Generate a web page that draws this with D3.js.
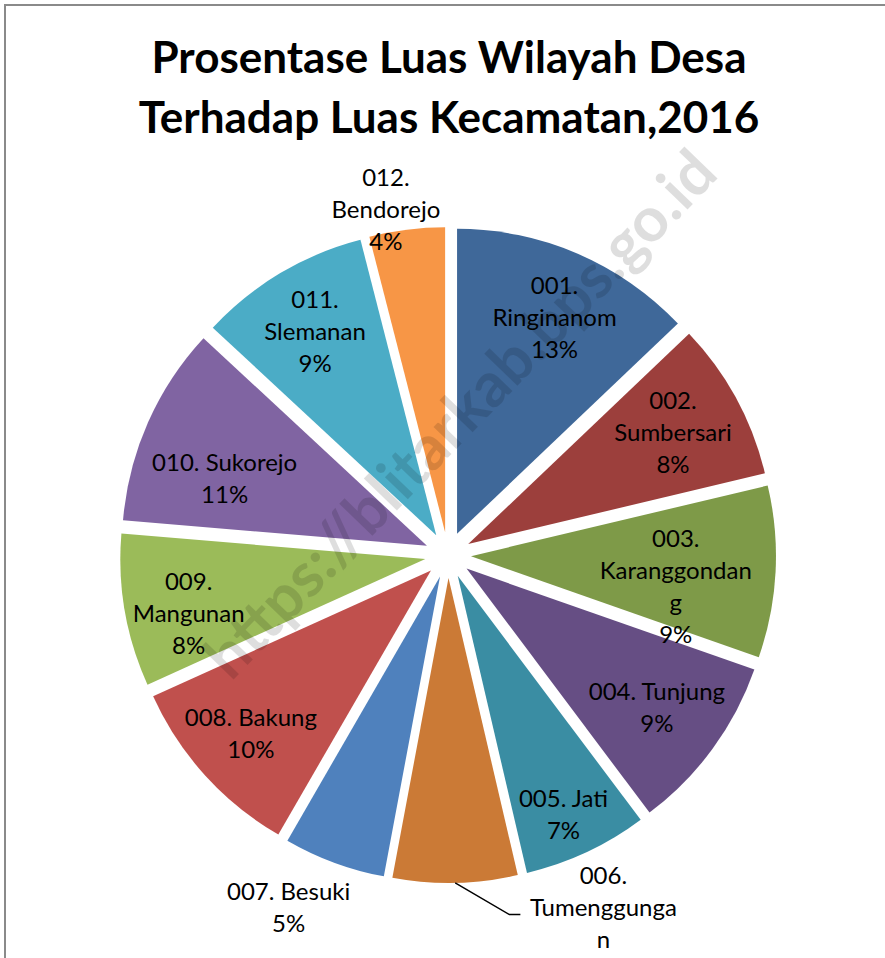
<!DOCTYPE html>
<html>
<head>
<meta charset="utf-8">
<script src="https://cdn.jsdelivr.net/npm/d3@7"></script>
<style>
  body { margin: 0; background: #fff; }
  svg { display: block; }
</style>
</head>
<body>
<div id="wrapper"></div>
<script>
// data (share of the kecamatan area, %)
const codes = ["001", "002", "003", "004", "005", "006", "007", "008", "009", "010", "011", "012"];
const villages = ["Ringinanom", "Sumbersari", "Karanggondang", "Tunjung", "Jati", "Tumenggungan",
                  "Besuki", "Bakung", "Mangunan", "Sukorejo", "Slemanan", "Bendorejo"];
const shares = [12.9, 8.4, 9.1, 9.4, 6.6, 6.6, 5.4, 9.9, 8.1, 10.6, 9.1, 4.0];
// label text as it is wrapped in the chart
const labelLines = [
  ["001.", "Ringinanom"], ["002.", "Sumbersari"], ["003.", "Karanggondan", "g"],
  ["004. Tunjung"], ["005. Jati"], ["006.", "Tumenggunga", "n"],
  ["007. Besuki"], ["008. Bakung"], ["009.", "Mangunan"],
  ["010. Sukorejo"], ["011.", "Slemanan"], ["012.", "Bendorejo"]
];
const sliceColors = ["#3F6899", "#9C3F3C", "#7E9A48", "#664E84", "#3A8DA3", "#CB7A36",
                     "#4F81BD", "#C0504D", "#9BBB59", "#8064A2", "#4BACC6", "#F79646"];
const titleLines = ["Prosentase Luas Wilayah Desa", "Terhadap Luas Kecamatan,2016"];

const dimension = {
  width: 885,
  height: 958,
  cx: 448,
  cy: 555,
  radius: 305,
  explode: 23,
  lineHeight: 32
};

// label anchor: distance from pie centre and turn (deg) from the slice bisector
const labelPlace = {
  "001": [260, 1], "002": [256, 0], "003": [230, 5], "004": [259, 0],
  "005": [284, 1], "006": [400, -21.6], "007": [387, 4], "008": [266, 0],
  "009": [266, -3], "010": [236, -5], "011": [260, 0], "012": [351, -3]
};

const data = codes.map((c, i) => ({
  code: c, name: villages[i], share: shares[i], lines: labelLines[i]
}));

const total = d3.sum(shares);
const pct = d => d3.format(".0f")(d.data.share / total * 100) + "%";

const colorScale = d3.scaleOrdinal().domain(codes).range(sliceColors);

const svg = d3.select("#wrapper")
  .append("svg")
  .attr("width", dimension.width)
  .attr("height", dimension.height);

// chart area border (cropped at right and bottom)
svg.append("rect")
  .attr("x", 5).attr("y", 5)
  .attr("width", 1000).attr("height", 1100)
  .attr("fill", "#fff")
  .attr("stroke", "#8a8a8a")
  .attr("stroke-width", 2);

svg.append("g")
  .selectAll("text")
  .data(titleLines)
  .enter()
  .append("text")
  .attr("x", 449)
  .attr("y", (d, i) => 73 + i * 60)
  .attr("text-anchor", "middle")
  .style("font-family", "Lato, 'Open Sans', sans-serif")
  .style("font-weight", "bold")
  .style("font-size", "44px")
  .text(d => d);

const pie = d3.pie().sort(null).value(d => d.share);
const arc = d3.arc().innerRadius(0).outerRadius(dimension.radius);
const arcs = pie(data);
const mid = d => (d.startAngle + d.endAngle) / 2;
const polar = (rad, a) => [rad * Math.sin(a), -rad * Math.cos(a)];

const plot = svg.append("g")
  .attr("transform", `translate(${dimension.cx},${dimension.cy})`);

plot.append("g")
  .attr("class", "slices")
  .selectAll("path")
  .data(arcs)
  .enter()
  .append("path")
  .attr("transform", d => `translate(${polar(dimension.explode, mid(d))})`)
  .attr("d", arc)
  .attr("fill", d => colorScale(d.data.code));

const labelPos = d => {
  const p = labelPlace[d.data.code];
  return polar(p[0], mid(d) + p[1] * Math.PI / 180);
};
const lineY = (d, i, n) => labelPos(d)[1] + (i - (n - 1) / 2) * dimension.lineHeight;

const labels = plot.append("g")
  .attr("class", "labels")
  .selectAll("text")
  .data(arcs)
  .enter()
  .append("text")
  .attr("text-anchor", "middle")
  .style("font-family", "Lato, 'Open Sans', sans-serif")
  .style("font-size", "24px")
  .attr("fill", "#000");

labels.each(function(d) {
  const lines = d.data.lines.concat([pct(d)]);
  const x = labelPos(d)[0];
  const t = d3.select(this);
  lines.forEach((ln, i) => {
    const y = lineY(d, i, lines.length);
    // lines that run past the chart frame are cut off, as in the source chart
    if (dimension.cy + y + 10 > dimension.height) return;
    t.append("tspan")
      .attr("x", x)
      .attr("y", y)
      .attr("dy", "0.35em")
      .text(ln);
  });
});

// leader line for the label that sits outside (006)
const outside = arcs.filter(d => d.data.code === "006");
plot.append("g")
  .selectAll("polyline")
  .data(outside)
  .enter()
  .append("polyline")
  .attr("fill", "none")
  .attr("stroke", "#000")
  .attr("stroke-width", 1.5)
  .attr("points", d => {
    const a = mid(d);
    const start = polar(dimension.radius + dimension.explode, a);
    const n = d.data.lines.length + 1;
    const end = [labelPos(d)[0] - 83, lineY(d, 1, n) + 7];
    const elbow = [end[0] - 11, end[1]];
    return [start, elbow, end].map(p => p.join(",")).join(" ");
  });

// watermark
svg.append("text")
  .attr("transform", "translate(460,414) rotate(-46)")
  .attr("text-anchor", "middle")
  .attr("dy", "0.35em")
  .style("font-family", "Lato, 'Open Sans', sans-serif")
  .style("font-weight", "bold")
  .style("font-size", "62px")
  .attr("fill", "#000")
  .attr("fill-opacity", 0.13)
  .text("https://blitarkab.bps.go.id");
</script>
</body>
</html>
